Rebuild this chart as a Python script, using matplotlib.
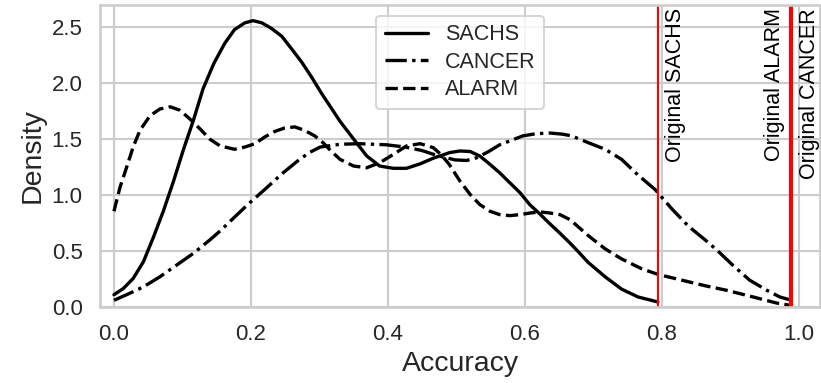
import numpy as np
import matplotlib
matplotlib.use("Agg")
import matplotlib.pyplot as plt
import seaborn as sns

# density curves
sachs_x = [0.0, 0.0136, 0.028, 0.043, 0.057, 0.072, 0.087, 0.101, 0.116, 0.130, 0.146,
           0.162, 0.176, 0.191, 0.203, 0.216, 0.230, 0.245, 0.259, 0.274, 0.288, 0.303,
           0.316, 0.330, 0.350, 0.369, 0.388, 0.408, 0.427, 0.447, 0.466, 0.490, 0.505,
           0.520, 0.534, 0.549, 0.563, 0.578, 0.593, 0.607, 0.622, 0.637, 0.651, 0.666,
           0.680, 0.692, 0.717, 0.741, 0.765, 0.794]
sachs_y = [0.11, 0.165, 0.255, 0.405, 0.615, 0.856, 1.126, 1.40, 1.67, 1.95, 2.18,
           2.36, 2.48, 2.54, 2.56, 2.54, 2.49, 2.42, 2.31, 2.19, 2.06, 1.91,
           1.79, 1.66, 1.50, 1.35, 1.26, 1.24, 1.24, 1.28, 1.33, 1.38, 1.395,
           1.39, 1.35, 1.275, 1.20, 1.11, 1.02, 0.915, 0.83, 0.74, 0.66, 0.57,
           0.48, 0.40, 0.27, 0.16, 0.09, 0.045]

cancer_x = [0.0, 0.0185, 0.043, 0.067, 0.0915, 0.116, 0.140, 0.155, 0.172, 0.196, 0.220,
            0.245, 0.269, 0.285, 0.301, 0.330, 0.359, 0.398, 0.425, 0.449, 0.474, 0.498,
            0.515, 0.530, 0.547, 0.563, 0.578, 0.597, 0.617, 0.637, 0.655, 0.668, 0.692,
            0.717, 0.741, 0.765, 0.790, 0.814, 0.839, 0.863, 0.880, 0.904, 0.928, 0.953,
            0.972, 0.989]
cancer_y = [0.06, 0.11, 0.18, 0.27, 0.375, 0.48, 0.60, 0.68, 0.78, 0.92, 1.05,
            1.19, 1.31, 1.38, 1.43, 1.455, 1.46, 1.45, 1.43, 1.40, 1.35, 1.315,
            1.31, 1.335, 1.39, 1.45, 1.485, 1.53, 1.55, 1.555, 1.545, 1.53, 1.47,
            1.41, 1.32, 1.18, 1.05, 0.88, 0.72, 0.60, 0.51, 0.37, 0.24, 0.15,
            0.09, 0.06]

alarm_x = [0.0, 0.0088, 0.0185, 0.028, 0.038, 0.0526, 0.067, 0.082, 0.096, 0.111, 0.126,
           0.140, 0.155, 0.162, 0.176, 0.191, 0.206, 0.220, 0.235, 0.249, 0.264, 0.278,
           0.293, 0.305, 0.316, 0.330, 0.350, 0.369, 0.388, 0.408, 0.427, 0.447, 0.466,
           0.478, 0.490, 0.505, 0.520, 0.534, 0.549, 0.563, 0.578, 0.593, 0.607, 0.622,
           0.637, 0.651, 0.666, 0.692, 0.717, 0.741, 0.771, 0.795, 0.829, 0.863, 0.894,
           0.933, 0.967, 0.987]
alarm_y = [0.856, 1.07, 1.25, 1.43, 1.58, 1.71, 1.77, 1.79, 1.76, 1.68, 1.59,
           1.50, 1.44, 1.43, 1.41, 1.43, 1.46, 1.52, 1.57, 1.60, 1.61, 1.58,
           1.53, 1.47, 1.40, 1.32, 1.26, 1.245, 1.29, 1.365, 1.44, 1.46, 1.425,
           1.36, 1.27, 1.126, 1.006, 0.916, 0.856, 0.826, 0.817, 0.826, 0.84, 0.85,
           0.84, 0.826, 0.78, 0.64, 0.52, 0.43, 0.34, 0.29, 0.24, 0.19, 0.15,
           0.09, 0.036, 0.015]

# original accuracies
orig_names = ["SACHS", "ALARM", "CANCER"]
orig_acc = [0.794, 0.9865, 0.9895]

sns.set_theme(style="whitegrid", context="talk")
plt.rcParams["font.family"] = ["Liberation Sans", "DejaVu Sans"]

fig, ax = plt.subplots(figsize=(8.21, 3.83), dpi=100)
fig.subplots_adjust(left=0.1218, right=0.9988, top=0.987, bottom=0.1984)

ax.plot(sachs_x, sachs_y, color="black", ls="-", lw=2.4, label="SACHS")
ax.plot(cancer_x, cancer_y, color="black", ls="-.", lw=2.4, label="CANCER")
ax.plot(alarm_x, alarm_y, color="black", ls="--", lw=2.4, label="ALARM")

for name, acc in zip(orig_names, orig_acc):
    ax.axvline(acc, color="red", lw=1.5)

ax.text(orig_acc[0] + 0.01, 2.67, "Original SACHS", rotation=90, ha="left", va="top",
        fontsize=15.5, color="black")
ax.text(orig_acc[1] - 0.007, 2.67, "Original ALARM", rotation=90, ha="right", va="top",
        fontsize=15.5, color="black")
ax.text(orig_acc[2] + 0.011, 2.67, "Original CANCER", rotation=90, ha="left", va="top",
        fontsize=15.5, color="black")

ax.set_xlim(-0.0204, 1.0307)
ax.set_ylim(0, 2.7)
ax.set_xticks([0.0, 0.2, 0.4, 0.6, 0.8, 1.0])
ax.set_yticks([0.0, 0.5, 1.0, 1.5, 2.0, 2.5])
ax.tick_params(labelsize=16)
ax.set_xlabel("Accuracy", fontsize=20.5)
ax.set_ylabel("Density", fontsize=20.5)

ax.legend(loc="upper center", fontsize=15.5, labelspacing=0.3)

fig.savefig("out.png", dpi=100)
